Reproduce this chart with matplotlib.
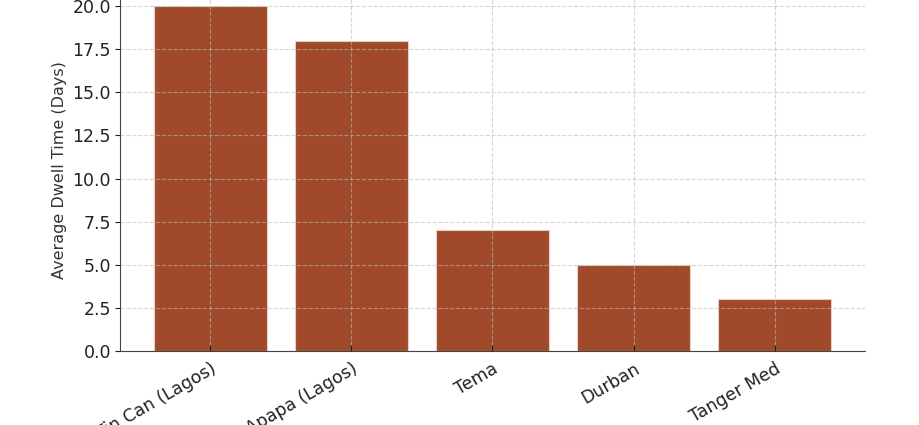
import matplotlib
matplotlib.use("Agg")
import matplotlib.pyplot as plt

ports = ["Tin Can (Lagos)", "Apapa (Lagos)", "Tema", "Durban", "Tanger Med"]
dwell_days = [20, 18, 7, 5, 3]

fig = plt.figure(figsize=(9.2, 4.25), dpi=100)
# axes top sits above the picture edge, as in the cropped original
ax = fig.add_axes([0.1304, 0.1741, 0.8098, 0.852])

ax.bar(ports, dwell_days, width=0.8, color="#a0492b", edgecolor="#e8cfc4", linewidth=0.8)

ax.set_ylabel("Average Dwell Time (Days)", fontsize=11.5, color="#333333")
ax.grid(True, linestyle="--", color="#bbbbbb", alpha=0.6, linewidth=0.8)
ax.set_axisbelow(False)

ax.spines["top"].set_visible(False)
ax.spines["right"].set_visible(False)
ax.spines["left"].set_color("#444444")
ax.spines["bottom"].set_color("#444444")

ax.tick_params(axis="both", labelsize=12.5, colors="#222222")
ax.tick_params(axis="y", direction="out", length=3.5, pad=3)
ax.tick_params(axis="x", direction="in", length=4, pad=6)
plt.setp(ax.get_xticklabels(), rotation=30, ha="right", rotation_mode="anchor")

fig.savefig("out.png", dpi=100)
